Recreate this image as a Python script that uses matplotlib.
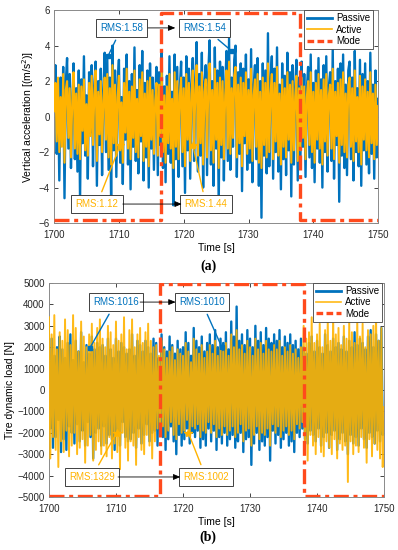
import numpy as np
import matplotlib
matplotlib.use('Agg')
from matplotlib import pyplot as plt

plt.rcParams['font.family'] = ['Liberation Sans', 'DejaVu Sans']
plt.rcParams['font.size'] = 7

# ---------------- data (0.2 s sampling) ----------------
t_start, t_end = 1700, 1750

acc_passive = [
    0.4, 2.9, -2.1, 1.5, -3.6, 2.2, -1.2, 2.8, -4.6, 1.9,
    3.3, -1.8, 2.4, -2.9, 0.8, 3.0, -2.4, 1.6, -3.1, 2.6,
    -4.7, 2.1, -1.5, 3.4, -2.2, 1.2, -3.5, 2.5, -0.9, 2.9,
    -2.8, 1.7, 3.1, -3.9, 2.0, -1.6, 2.7, -3.3, 1.4, 3.6,
    -2.0, 3.3, -3.0, 2.2, -5.0, 4.0, -1.9, 2.6, -3.4, 1.8,
    3.2, -2.6, 1.1, -3.8, 2.7, -1.3, 3.5, -2.7, 2.0, -4.1,
    2.4, -1.7, 3.9, -2.5, 1.5, -3.2, 2.9, -1.4, 3.7, -3.6,
    1.9, -2.3, 2.6, -4.0, 3.0, -1.8, 2.2, -3.0, 1.3, 2.8,
    -3.3, 2.5, -1.6, 3.6, -2.9, 1.7, -3.7, 2.3, -2.1, 3.4,
    -2.6, 1.4, -5.0, 3.5, -2.4, 2.8, -3.4, 1.6, 3.1, -2.8,
    2.2, -4.3, 3.4, -1.9, 2.7, -3.5, 1.8, 3.3, -2.5, 2.0,
    4.2, -3.1, 2.4, -2.2, 3.6, -4.0, 1.9, 2.9, -3.3, 2.5,
    4.3, -2.7, 2.0, -3.9, 3.9, -1.8, 2.6, -5.0, 3.1, -2.3,
    2.8, -3.6, 1.6, 3.7, -2.5, 4.4, -3.0, 2.2, -1.7, 3.2,
    4.0, -3.4, 2.5, -2.1, 3.0, -4.2, 2.7, -1.5, 3.5, -3.0,
    2.1, -2.6, 3.8, -3.7, 1.7, 2.9, -2.4, 3.3, -3.9, 2.0,
    -5.7, 3.0, -2.2, 2.6, -3.2, 4.7, -2.8, 1.9, 3.4, -3.5,
    2.7, -2.0, 3.9, -3.1, 1.8, -4.1, 3.0, -2.4, 2.3, -3.3,
    3.6, -1.9, 2.5, -4.5, 2.9, -2.7, 1.6, 3.2, -3.6, 2.2,
    -2.8, 3.1, -1.7, 2.4, -3.4, 1.5, 2.8, -2.3, 3.5, -2.9,
    1.9, -3.7, 2.6, -1.8, 3.3, -2.6, 2.1, -4.0, 2.9, -2.0,
    3.4, -3.1, 1.7, 2.5, -2.5, 3.8, -3.5, 2.0, -1.6, 2.7,
    -4.8, 3.0, -2.2, 3.5, -2.9, 1.8, -3.3, 2.6, 3.1, -2.4,
    2.2, -3.6, 3.7, -2.0, 1.6, -2.8, 3.2, -3.9, 2.4, -1.9,
    3.0, -2.7, 2.0, -3.2, 3.6, -2.1, 1.8, -3.5, 2.6, -2.3,
    1.0]

acc_active = [
    0.3, 1.9, -1.4, 2.2, -2.0, 1.1, -1.7, 2.4, -2.6, 1.5,
    2.0, -1.2, 1.6, -2.3, 0.9, 2.5, -1.8, 1.3, -2.1, 1.8,
    -2.4, 1.7, -0.8, 2.1, -1.9, 0.7, -2.2, 1.9, -1.1, 2.3,
    -1.6, 1.2, 2.6, -2.5, 1.4, -1.0, 2.0, -2.0, 0.9, 2.2,
    -1.3, 2.4, -2.3, 1.6, -2.7, 2.9, -1.5, 1.8, -2.2, 1.1,
    2.3, -1.9, 0.8, -2.6, 1.9, -0.9, 2.7, -1.8, 1.4, -2.4,
    1.7, -1.2, 2.6, -2.0, 1.0, -2.3, 2.1, -1.1, 2.5, -2.5,
    1.3, -1.7, 2.0, -2.8, 2.2, -1.3, 1.5, -2.1, 0.9, 1.9,
    -2.2, 1.8, -1.1, 2.7, -2.0, 1.2, -2.6, 1.7, -1.5, 2.4,
    -1.8, 1.0, -2.9, 2.5, -1.7, 2.0, -2.4, 1.2, 2.2, -2.0,
    1.6, -2.8, 2.4, -1.3, 1.9, -2.5, 1.3, 2.6, -1.8, 1.5,
    2.9, -2.2, 1.7, -1.5, 2.5, -2.7, 1.4, 2.1, -2.3, 1.8,
    3.0, -1.9, 1.5, -2.6, 2.7, -1.3, 1.9, -2.9, 2.2, -1.6,
    2.0, -2.4, 1.2, 2.6, -1.8, 3.1, -2.1, 1.6, -1.2, 2.3,
    2.8, -2.3, 1.8, -1.5, 2.2, -2.8, 1.9, -1.1, 2.5, -2.1,
    1.5, -1.8, 2.7, -2.5, 1.2, 2.1, -1.7, 2.4, -2.6, 1.4,
    -2.9, 2.2, -1.6, 1.9, -2.3, 3.0, -2.0, 1.3, 2.4, -2.4,
    1.9, -1.4, 2.8, -2.2, 1.3, -2.7, 2.1, -1.7, 1.6, -2.3,
    2.5, -1.3, 1.8, -2.6, 2.0, -1.9, 1.1, 2.3, -2.5, 1.6,
    -1.9, 2.2, -1.2, 1.7, -2.4, 1.1, 2.0, -1.6, 2.5, -2.0,
    1.4, -2.6, 1.9, -1.3, 2.4, -1.8, 1.5, -2.7, 2.1, -1.4,
    2.4, -2.2, 1.2, 1.8, -1.8, 2.7, -2.4, 1.4, -1.1, 1.9,
    -2.6, 2.1, -1.6, 2.5, -2.0, 1.3, -2.3, 1.8, 2.2, -1.7,
    1.6, -2.5, 2.6, -1.4, 1.1, -2.0, 2.3, -2.7, 1.7, -1.3,
    2.1, -1.9, 1.4, -2.3, 2.5, -1.5, 1.3, -2.4, 1.8, -1.6,
    0.6]

load_passive = [
    1300, -1800, 2400, -2700, 1600, -2200, 2000, -1400, 2500, -2900,
    1900, -2300, 1500, -2800, 2200, -1700, 2600, -2000, 1400, -2500,
    2300, -1600, 1800, -2400, 2700, -1900, 1300, -2600, 2100, -1500,
    1700, -2200, 2500, -3200, 1900, -2000, 2200, -1800, 2000, -2600,
    2100, -1700, 1600, -2500, 2400, -2100, 1900, -2300, 1500, -2800,
    2400, -2000, 1800, -2600, 2200, -1500, 2000, -2200, 1700, -2400,
    1900, -2300, 2600, -2000, 1600, -2700, 2300, -1800, 2100, -2500,
    1800, -2100, 2300, -1600, 2000, -2400, 1700, -2000, 2400, -1900,
    2200, -2600, 1500, -1900, 2600, -2200, 2000, -2800, 1800, -2300,
    2500, -1700, 2100, -2400, 1700, -3000, 2300, -2100, 1900, -2600,
    2000, -2300, 2700, -1800, 2200, -2500, 1600, -2000, 2900, -2200,
    2300, -1900, 2000, -2700, 2500, -2300, 1800, -2600, 2200, -1800,
    2600, -2400, 2100, -1900, 2800, -2800, 2000, -2200, 2400, -2500,
    2200, -2000, 2700, -2600, 1900, -2300, 3200, -2100, 2500, -2700,
    3900, -2400, 2300, -2000, 2600, -2900, 2100, -2300, 2800, -2200,
    2400, -3500, 2000, -2500, 3000, -2000, 2300, -2800, 2700, -2400,
    2100, -2600, 2900, -2200, 2400, -3300, 2200, -1900, 2600, -2500,
    2300, -2100, 2800, -2700, 2000, -2300, 2500, -2000, 2200, -2600,
    2600, -2400, 2100, -2900, 2300, -2000, 1900, -2200, 2400, -1800,
    2000, -2300, 1700, -2500, 2200, -1900, 2500, -2100, 1800, -2400,
    2300, -1800, 2000, -2600, 1700, -2200, 2600, -2000, 2100, -2700,
    1800, -2100, 2400, -1900, 2000, -2800, 2200, -2300, 1900, -2000,
    2500, -2400, 1800, -3000, 2300, -2100, 2000, -2500, 2700, -2200,
    2100, -2600, 2400, -1800, 2200, -2300, 1900, -2700, 2500, -2000,
    2800, -2200, 2000, -2500, 2600, -1900, 2300, -2400, 2900, -2100,
    -1500]

load_active = [
    3400, -3200, 2600, -2200, 3500, -2800, 1900, -3600, 2700, -2400,
    2300, -2900, 3300, -1900, 2800, -3100, 2100, -2600, 3500, -2000,
    2900, -3000, 1800, -2700, 3200, -2300, 2500, -3400, 2000, -2600,
    2600, -2100, 3100, -3300, 2200, -2800, 2900, -2400, 3300, -3000,
    2400, -2600, 2000, -3100, 3000, -2200, 2700, -3200, 2100, -2500,
    3200, -2900, 2300, -3700, 2600, -2000, 3400, -2700, 1900, -3300,
    2800, -2400, 3300, -2600, 2000, -3500, 2600, -2200, 2900, -2800,
    2200, -3000, 2700, -2100, 3100, -2600, 2300, -3200, 2000, -2400,
    2100, -1800, 1600, -2000, 2300, -1700, 1900, -2200, 1500, -1900,
    1800, -1500, 2000, -2100, 1400, -2300, 1900, -1600, 1700, -2000,
    1600, -1900, 2200, -1400, 1800, -2100, 1300, -1700, 2400, -1800,
    1900, -1600, 1700, -2200, 2100, -1900, 1500, -2000, 1800, -1500,
    2100, -2000, 1700, -1600, 2300, -2200, 1600, -1800, 2000, -2100,
    1800, -1700, 2200, -2100, 1600, -1900, 2600, -1700, 2000, -2200,
    2800, -2000, 1900, -1600, 2100, -2400, 1700, -1900, 2300, -1800,
    2000, -2600, 1600, -2100, 2400, -1700, 1900, -2300, 2200, -2000,
    1700, -2100, 2300, -1800, 1900, -2600, 1800, -1600, 2100, -2000,
    1900, -1700, 2300, -2200, 1600, -1900, 2000, -1700, 1800, -2100,
    2100, -1900, 1700, -2300, 1900, -1600, 1500, -1800, 2000, -1500,
    3000, -2800, 2400, -3300, 2700, -2100, 3400, -2600, 2200, -3000,
    2600, -2200, 3100, -2900, 2000, -3100, 2800, -2400, 3300, -2700,
    2300, -3000, 3500, -2300, 2600, -3200, 2900, -2500, 2100, -2800,
    3000, -2600, 2400, -4300, 3200, -2400, 2700, -3000, 2200, -2600,
    3300, -2900, 2500, -2200, 3100, -2700, 2000, -3400, 2800, -2300,
    2600, -3100, 3000, -2500, 3600, -2800, 2300, -3200, 2900, -3600,
    -800]

# mode switching: 0 = low, 1 = high
mode_times = [1700, 1716.5, 1738, 1750]
mode_state = [0, 1, 0, 0]

# annotations: (label, marker x, marker y, box x, box y)
acc_notes_passive = [('RMS:1.58', 1708.3, 3.4, 1710.4, 5.0),
                     ('RMS:1.54', 1727.4, 3.7, 1723.2, 5.0)]
acc_notes_active = [('RMS:1.12', 1710.2, -1.6, 1706.6, -4.93),
                    ('RMS:1.44', 1721.4, -1.6, 1723.4, -4.93)]
load_notes_passive = [('RMS:1016', 1706.1, 1960, 1710.0, 4110),
                      ('RMS:1010', 1725.8, 2000, 1722.8, 4110)]
load_notes_active = [('RMS:1329', 1710.1, -2000, 1706.4, -4065),
                     ('RMS:1002', 1720.8, -2000, 1723.4, -4065)]

C_PASSIVE = '#0072BD'
C_ACTIVE = '#FFB300'
C_MODE = '#FF4A1C'


def style_axes(ax, yticks):
    ax.set_xlim(t_start, t_end)
    ax.set_ylim(yticks[0], yticks[-1])
    ax.set_xticks(range(1700, 1751, 10))
    ax.set_yticks(yticks)
    ax.tick_params(direction='in', length=3, width=0.6, top=True, right=True,
                   labelsize=7, colors='#262626', pad=3)
    ax.tick_params(axis='x', pad=5)
    for s in ax.spines.values():
        s.set_color('#8a8a8a')
        s.set_linewidth(0.7)
    ax.set_xlabel('Time [s]', fontsize=7.5, labelpad=2)


def draw_mode(ax, lo, hi):
    lev = [lo + (hi - lo) * m for m in mode_state]
    ax.step(mode_times, lev, where='post', color=C_MODE, lw=2.4,
            ls=(0, (4.5, 1.4, 1.2, 1.4)), label='Mode', zorder=4)


def note(ax, notes, color, marker, ms):
    for lab, mx, my, bx, by in notes:
        ax.plot(mx, my, marker=marker, color=color, ms=ms, zorder=6)
        ax.annotate(lab, xy=(mx, my), xytext=(bx, by), color=color,
                    fontsize=7, ha='center', va='center', zorder=7,
                    bbox=dict(boxstyle='square,pad=0.45', fc='white',
                              ec='#404040', lw=0.7),
                    arrowprops=dict(arrowstyle='-', color=color, lw=1.0,
                                    shrinkB=0))


def link(ax, x0, x1, y):
    ax.annotate('', xy=(x1, y), xytext=(x0, y), zorder=7,
                arrowprops=dict(arrowstyle='-|>,head_length=0.6,head_width=0.25',
                                color='black', lw=0.6, shrinkA=0, shrinkB=0))


def add_legend(ax, xa):
    h, l = ax.get_legend_handles_labels()
    leg = ax.legend(h, l, loc='upper right', bbox_to_anchor=(xa, 1.0),
                    fontsize=7, handlelength=2.6, borderpad=0.3, labelspacing=0.15,
                    handletextpad=0.4, fancybox=False, framealpha=1, borderaxespad=0)
    leg.get_frame().set_edgecolor('#404040')
    leg.get_frame().set_linewidth(0.6)
    leg.legend_handles[0].set_linewidth(2.0)
    leg.legend_handles[1].set_linewidth(1.2)
    leg.legend_handles[2].set_linestyle((0, (2, 1)))


fig = plt.figure(figsize=(3.98, 5.5), dpi=100)

# ---------------- (a) vertical acceleration ----------------
ax1 = fig.add_axes([0.136, 0.5945, 0.814, 0.387])
t1 = np.linspace(t_start, t_end, len(acc_passive))
ax1.plot(t1, acc_passive, color=C_PASSIVE, lw=1.7, label='Passive', zorder=2)
ax1.plot(t1, acc_active, color=C_ACTIVE, lw=1.5, label='Active', zorder=3)
draw_mode(ax1, -5.85, 5.85)
style_axes(ax1, [-6, -4, -2, 0, 2, 4, 6])
ax1.set_ylabel('Vertical acceleration [(m/s$^2$)]', fontsize=7.5, labelpad=2)
note(ax1, acc_notes_passive, C_PASSIVE, 's', 3)
note(ax1, acc_notes_active, C_ACTIVE, '*', 6)
link(ax1, 1714.5, 1718.7, 5.0)
link(ax1, 1710.6, 1719.7, -4.93)
add_legend(ax1, 0.985)
fig.text(0.523, 0.516, '(a)', ha='center', va='center', fontsize=10,
         fontweight='bold', family='Liberation Serif')

# ---------------- (b) tire dynamic load ----------------
ax2 = fig.add_axes([0.123, 0.0964, 0.842, 0.389])
t2 = np.linspace(t_start, t_end, len(load_passive))
ax2.plot(t2, load_passive, color=C_PASSIVE, lw=1.7, label='Passive', zorder=2)
ax2.plot(t2, load_active, color=C_ACTIVE, lw=1.4, alpha=0.9, label='Active', zorder=3)
draw_mode(ax2, -4950, 4950)
style_axes(ax2, list(range(-5000, 5001, 1000)))
ax2.set_ylabel('Tire dynamic load [N]', fontsize=7.5, labelpad=2)
note(ax2, load_notes_passive, C_PASSIVE, 's', 3)
note(ax2, load_notes_active, C_ACTIVE, '*', 6)
link(ax2, 1713.6, 1718.9, 4110)
link(ax2, 1710.3, 1719.6, -4065)
add_legend(ax2, 0.995)
fig.text(0.523, 0.024, '(b)', ha='center', va='center', fontsize=10,
         fontweight='bold', family='Liberation Serif')

fig.savefig('out.png', dpi=100)
